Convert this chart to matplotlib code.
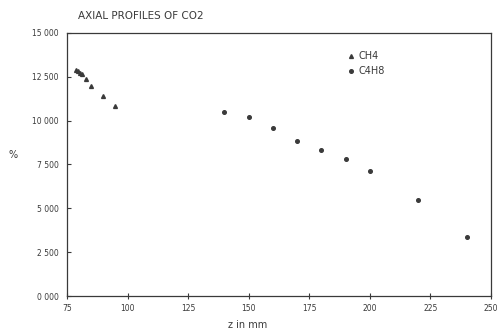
import matplotlib.pyplot as plt
from matplotlib.ticker import FixedLocator, FixedFormatter

# CO2 axial profiles, two fuels
ch4_z = [78.7, 79.5, 80.4, 81.2, 83.0, 84.9, 90.0, 94.8]
ch4_co2 = [12890, 12840, 12720, 12640, 12360, 11980, 11410, 10860]

c4h8_z = [140, 150, 160, 170, 180, 190, 200, 220, 240]
c4h8_co2 = [10510, 10190, 9570, 8860, 8330, 7830, 7130, 5480, 3380]

x_ticks = [75, 100, 125, 150, 175, 200, 225, 250]
y_ticks = [0, 2500, 5000, 7500, 10000, 12500, 15000]
y_tick_labels = ["0 000", "2 500", "5 000", "7 500", "10 000", "12 500", "15 000"]

ink = "#3a3a3a"
plt.rcParams['font.family'] = ['DejaVu Sans']

fig = plt.figure(figsize=(5.0, 3.36), dpi=100)
ax = fig.add_axes([0.134, 0.119, 0.848, 0.783])

ax.plot(ch4_z, ch4_co2, linestyle="none", marker="^", markersize=2.8,
        color=ink, label="CH4")
ax.plot(c4h8_z, c4h8_co2, linestyle="none", marker="o", markersize=2.6,
        color=ink, label="C4H8")

ax.set_xlim(75, 250)
ax.set_ylim(0, 15000)

ax.xaxis.set_major_locator(FixedLocator(x_ticks))
ax.yaxis.set_major_locator(FixedLocator(y_ticks))
ax.yaxis.set_major_formatter(FixedFormatter(y_tick_labels))
ax.tick_params(axis="x", direction="inout", length=5, width=0.8, colors=ink,
               labelsize=5.5, pad=3)
ax.tick_params(axis="y", direction="in", length=3, width=0.8, colors=ink,
               labelsize=5.5, pad=6)

for side in ax.spines.values():
    side.set_color(ink)
    side.set_linewidth(0.9)

ax.set_xlabel("z in mm", fontsize=7, color=ink)
ax.xaxis.set_label_coords(0.425, -0.092)
ax.set_ylabel("%", fontsize=7, color=ink, rotation=0, va="center", ha="center")
ax.yaxis.set_label_coords(-0.127, 0.536)
ax.set_title("AXIAL PROFILES OF CO2", fontsize=7.5, color=ink,
             loc="left", pad=10, x=0.025)

ax.legend(loc="upper left", bbox_to_anchor=(0.64, 0.963), frameon=False,
          fontsize=7, handletextpad=0.4, labelspacing=0.5,
          handlelength=0.8, markerscale=1.0, labelcolor=ink)

fig.savefig("out.png", dpi=100, facecolor="white")
